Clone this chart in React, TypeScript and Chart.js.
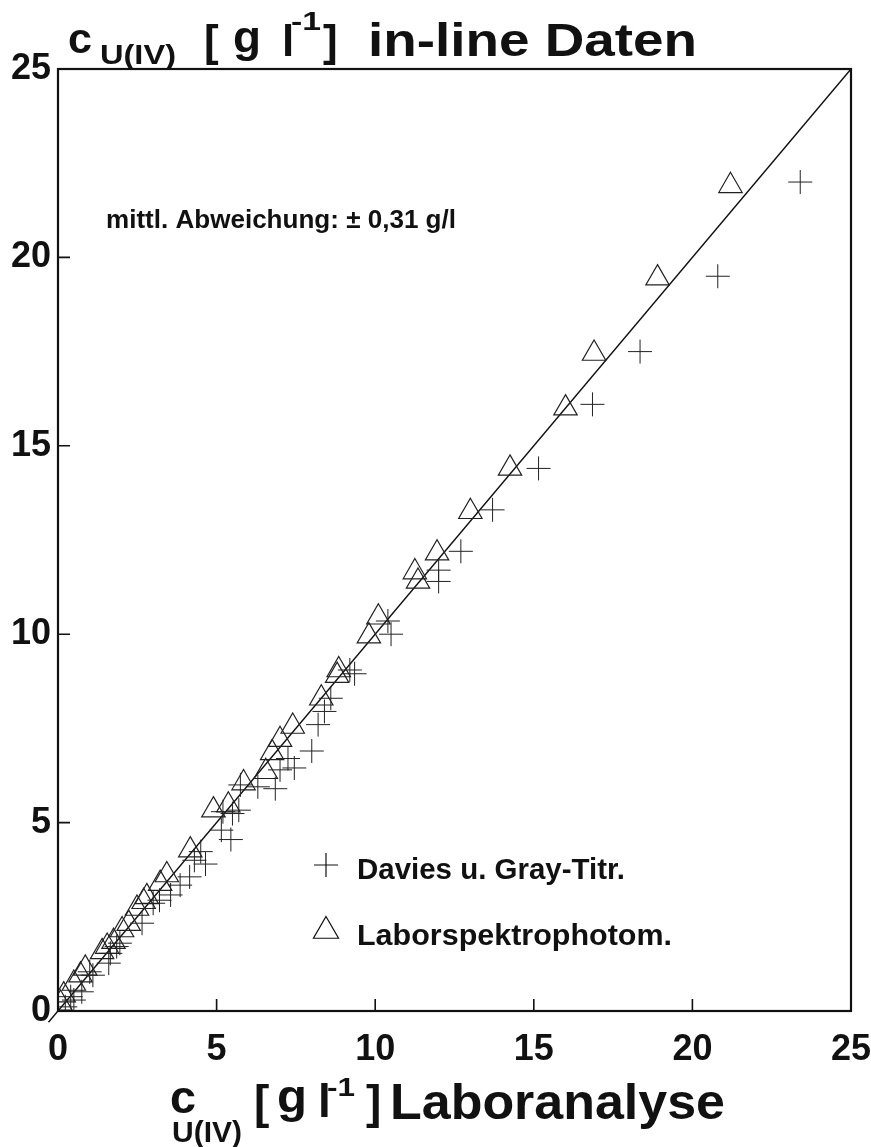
import { useEffect, useRef } from 'react';
import { Chart, registerables } from 'chart.js';
Chart.register(...registerables);

// Axis range / ticks
const axisMin = 0;
const axisMax = 25;
const tickStep = 5;
const innerTicks = [5, 10, 15, 20];

// Davies u. Gray-Titr. (crosses): x = Laboranalyse, y = in-line
const daviesX = [23.4, 20.8, 18.35, 16.85, 15.15, 13.7, 12.7, 12.0, 12.0, 10.4, 10.5, 9.2, 9.35, 8.6, 8.4, 8.2, 8.0, 7.25, 7.45, 7.0, 6.85, 6.3, 5.75, 5.7, 5.5, 5.2, 5.15, 5.45, 4.65, 4.5, 4.3, 4.15, 3.85, 3.55, 3.2, 3.0, 2.65, 1.95, 1.85, 1.65, 1.6, 1.1, 1.0, 0.75, 0.5, 0.4, 0.23];
const daviesY = [22.0, 19.5, 17.5, 16.1, 14.4, 13.3, 12.2, 11.7, 11.4, 10.35, 10.0, 9.05, 8.95, 8.3, 7.95, 7.6, 6.9, 6.7, 6.45, 6.4, 5.9, 5.95, 6.0, 5.33, 5.24, 5.29, 4.8, 4.55, 3.9, 4.23, 4.0, 3.56, 3.34, 3.08, 2.94, 2.86, 2.33, 1.8, 1.71, 1.53, 1.27, 0.95, 1.04, 0.51, 0.29, 0.38, 0.11];

// Laborspektrophotom. (triangles)
const spektroX = [21.2, 18.9, 16.9, 16.0, 14.25, 13.0, 11.95, 11.25, 11.35, 10.1, 9.8, 8.85, 8.8, 8.3, 7.4, 7.0, 6.75, 6.55, 5.85, 5.37, 4.9, 4.17, 3.43, 3.22, 2.8, 2.7, 2.49, 2.23, 2.02, 1.75, 1.55, 1.39, 0.86, 0.71, 0.5, 0.18, 0.08];
const spektroY = [21.9, 19.45, 17.45, 16.0, 14.4, 13.25, 12.15, 11.65, 11.4, 10.45, 9.95, 9.05, 8.9, 8.3, 7.55, 7.2, 6.85, 6.35, 6.05, 5.46, 5.33, 4.27, 3.61, 3.38, 3.03, 2.9, 2.72, 2.32, 2.15, 1.84, 1.71, 1.57, 1.13, 0.95, 0.73, 0.42, 0.2];

// Identity line
const lineX = [-0.3, 25];
const lineY = [-0.3, 25];

const legendLabels = ['Davies u. Gray-Titr.', 'Laborspektrophotom.'];
const noteText = 'mittl. Abweichung: \u00b1 0,31 g/l';

const FONT = '"Liberation Sans", Arial, sans-serif';

type Piece = { t: string; x: number; y: number; size: number; w?: number };

function drawPieces(ctx: CanvasRenderingContext2D, pieces: Piece[], weight: string) {
  ctx.save();
  ctx.fillStyle = '#111';
  ctx.textBaseline = 'alphabetic';
  ctx.textAlign = 'left';
  for (const p of pieces) {
    ctx.font = `${weight} ${p.size}px ${FONT}`;
    const m = ctx.measureText(p.t).width;
    const sx = p.w ? p.w / m : 1;
    ctx.save();
    ctx.translate(p.x, p.y);
    ctx.scale(sx, 1);
    ctx.fillText(p.t, 0, 0);
    ctx.restore();
  }
  ctx.restore();
}

const decorPlugin = {
  id: 'decor',
  afterDatasetsDraw(chart: any) {
    const ctx: CanvasRenderingContext2D = chart.ctx;
    const { left, right, top, bottom } = chart.chartArea;
    const xs = chart.scales.x;
    const ys = chart.scales.y;
    ctx.save();
    ctx.strokeStyle = '#111';
    ctx.lineWidth = 2.2;
    ctx.strokeRect(left, top, right - left, bottom - top);
    ctx.lineWidth = 1.6;
    ctx.beginPath();
    for (const v of innerTicks) {
      const px = xs.getPixelForValue(v);
      ctx.moveTo(px, bottom);
      ctx.lineTo(px, bottom - 12);
      const py = ys.getPixelForValue(v);
      ctx.moveTo(left, py);
      ctx.lineTo(left + 12, py);
    }
    ctx.stroke();

    // legend markers
    const cx = 326, cy1 = 865, cy2 = 931;
    ctx.lineWidth = 1.2;
    ctx.beginPath();
    ctx.moveTo(cx - 12, cy1); ctx.lineTo(cx + 12, cy1);
    ctx.moveTo(cx, cy1 - 12); ctx.lineTo(cx, cy1 + 12);
    ctx.stroke();
    const r = 14.5;
    ctx.beginPath();
    ctx.moveTo(cx, cy2 - r);
    ctx.lineTo(cx + r * Math.sin((2 * Math.PI) / 3), cy2 - r * Math.cos((2 * Math.PI) / 3));
    ctx.lineTo(cx + r * Math.sin((4 * Math.PI) / 3), cy2 - r * Math.cos((4 * Math.PI) / 3));
    ctx.closePath();
    ctx.stroke();
    ctx.restore();

    drawPieces(ctx, [
      { t: legendLabels[0], x: 357, y: 879, size: 29, w: 268 },
      { t: legendLabels[1], x: 357, y: 945, size: 29, w: 315 },
      { t: noteText, x: 106, y: 228, size: 25, w: 350 },
    ], 'bold');

    // y-axis title
    drawPieces(ctx, [
      { t: 'c', x: 68, y: 53, size: 42, w: 24 },
      { t: 'U(IV)', x: 100, y: 64, size: 28, w: 76 },
      { t: '[', x: 204, y: 56, size: 44 },
      { t: 'g', x: 233, y: 52, size: 44, w: 28 },
      { t: 'l', x: 282, y: 56, size: 44 },
      { t: '-1', x: 291, y: 30, size: 26, w: 30 },
      { t: ']', x: 323, y: 56, size: 44 },
      { t: 'in-line Daten', x: 368, y: 56, size: 46, w: 329 },
    ], 'bold');

    // x-axis title
    drawPieces(ctx, [
      { t: 'c', x: 170, y: 1113, size: 46, w: 26 },
      { t: 'U(IV)', x: 172, y: 1142, size: 30, w: 70 },
      { t: '[', x: 254, y: 1118, size: 46 },
      { t: 'g', x: 277, y: 1112, size: 46, w: 30 },
      { t: 'l', x: 318, y: 1117, size: 46 },
      { t: '-1', x: 327, y: 1096, size: 26, w: 28 },
      { t: ']', x: 366, y: 1118, size: 46 },
      { t: 'Laboranalyse', x: 390, y: 1119, size: 50, w: 335 },
    ], 'bold');
  },
};

export default function App() {
  const ref = useRef<HTMLCanvasElement>(null);
  useEffect(() => {
    document.body.style.margin = '0';
    const tickFont = { family: FONT, size: 36, weight: 'bold' as const };
    const chart = new Chart(ref.current!, {
      type: 'scatter',
      data: {
        datasets: [
          {
            label: legendLabels[0],
            data: daviesX.map((x, i) => ({ x, y: daviesY[i] })),
            pointStyle: 'cross',
            pointRadius: 12,
            borderColor: '#222',
            backgroundColor: 'rgba(0,0,0,0)',
            borderWidth: 1,
          },
          {
            label: legendLabels[1],
            data: spektroX.map((x, i) => ({ x, y: spektroY[i] })),
            pointStyle: 'triangle',
            pointRadius: 13.5,
            borderColor: '#222',
            backgroundColor: 'rgba(0,0,0,0)',
            borderWidth: 1.2,
          },
          {
            type: 'line' as const,
            label: 'fit',
            data: lineX.map((x, i) => ({ x, y: lineY[i] })),
            borderColor: '#111',
            borderWidth: 1.4,
            pointRadius: 0,
            showLine: true,
            fill: false,
            clip: false as any,
          } as any,
        ],
      },
      options: {
        responsive: false,
        animation: false,
        devicePixelRatio: 1,
        layout: { padding: { left: 0, right: 20, top: 69, bottom: 0 } },
        plugins: { legend: { display: false }, tooltip: { enabled: false } },
        scales: {
          x: {
            type: 'linear',
            min: axisMin,
            max: axisMax,
            ticks: { stepSize: tickStep, font: tickFont, color: '#111', padding: 17, maxRotation: 0 },
            grid: { display: false, drawTicks: false },
            border: { display: false },
            afterFit: (s: any) => {
              s.height = 136;
              s.paddingLeft = 0;
              s.paddingRight = 0;
            },
          },
          y: {
            type: 'linear',
            min: axisMin,
            max: axisMax,
            ticks: { stepSize: tickStep, font: tickFont, color: '#111', padding: 7 },
            grid: { display: false, drawTicks: false },
            border: { display: false },
            afterFit: (s: any) => {
              s.width = 58;
              s.paddingTop = 0;
              s.paddingBottom = 0;
            },
          },
        },
      },
      plugins: [decorPlugin],
    });
    return () => chart.destroy();
  }, []);
  return <canvas ref={ref} width={871} height={1147} style={{ display: 'block' }} />;
}
